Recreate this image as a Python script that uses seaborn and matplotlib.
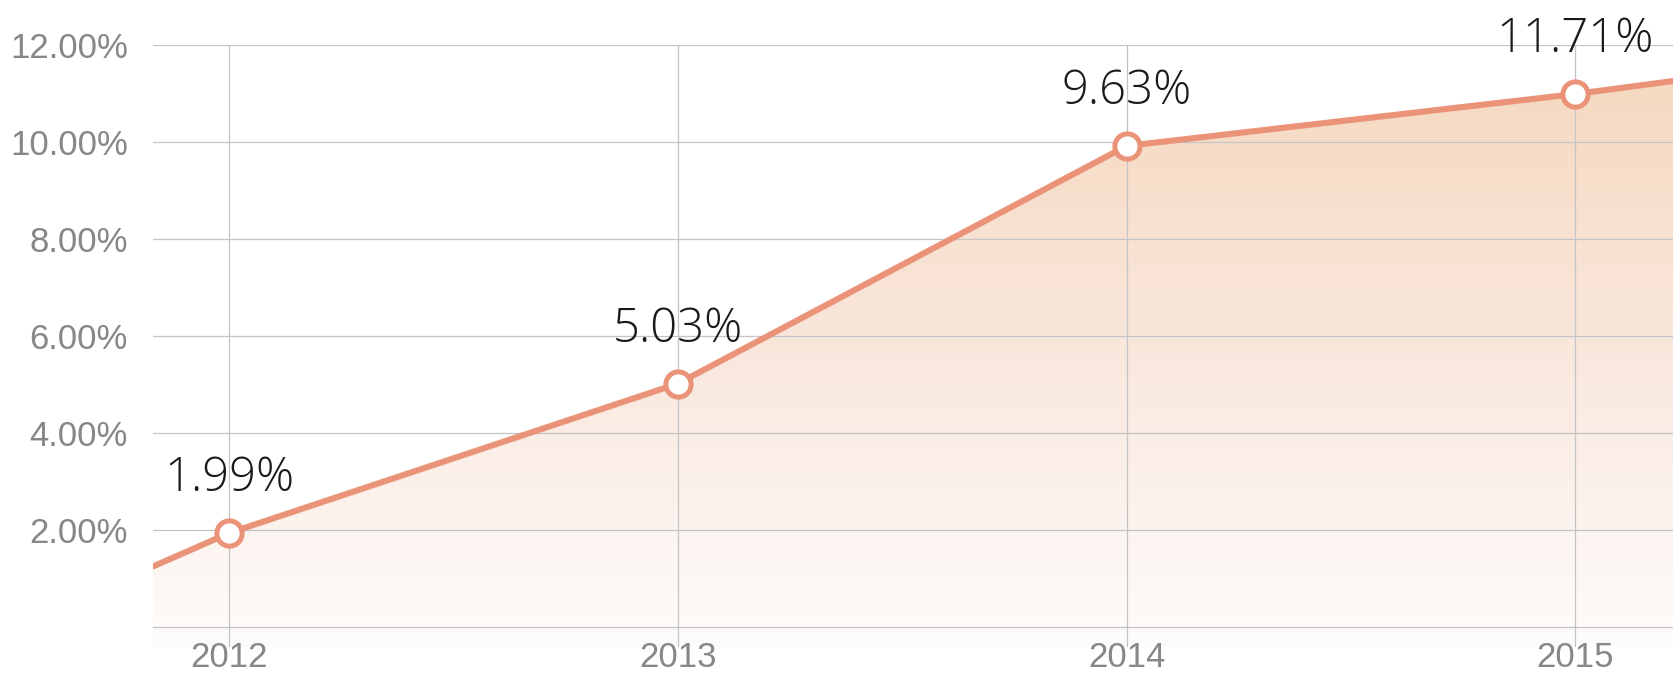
import numpy as np
import matplotlib
matplotlib.use('Agg')
import matplotlib.pyplot as plt
from matplotlib.colors import LinearSegmentedColormap
import seaborn as sns
import pandas as pd

# valores
years = [2012, 2013, 2014, 2015]
rates = [1.94, 5.02, 9.92, 10.99]
point_labels = ['1.99%', '5.03%', '9.63%', '11.71%']

# a linha continua além dos pontos até as bordas
line_years = [2011.83, 2012, 2013, 2014, 2015, 2015.22]
line_rates = [1.25, 1.94, 5.02, 9.92, 10.99, 11.26]

y_ticks = [0, 2, 4, 6, 8, 10, 12]
y_tick_labels = ['', '2.00%', '4.00%', '6.00%', '8.00%', '10.00%', '12.00%']

LINE_COLOR = '#eb9378'
GRID_COLOR = '#c4c4c6'
TICK_COLOR = '#86868b'

sns.set_theme(style='white')
plt.rcParams['font.family'] = ['Liberation Sans', 'DejaVu Sans']

fig = plt.figure(figsize=(16.74, 6.75), dpi=100)
ax = fig.add_axes([0.0914, 0.0415, 0.9086, 0.8918])

xmin, xmax = line_years[0], line_years[-1]
ymin, ymax = -0.41, 12

# preenchimento em degradê abaixo da linha
df_line = pd.DataFrame({'ano': line_years, 'taxa': line_rates})
poly = ax.fill_between(df_line['ano'], df_line['taxa'], ymin, color='none', lw=0)
cmap = LinearSegmentedColormap.from_list('grad', ['#fefcfb', '#f9e7dc', '#f5d8bd'])
grad = np.linspace(0, 1, 256).reshape(-1, 1)
img = ax.imshow(grad, extent=[xmin, xmax, ymin, ymax], origin='lower',
                aspect='auto', cmap=cmap, zorder=1)
img.set_clip_path(poly.get_paths()[0], transform=ax.transData)

sns.lineplot(data=df_line, x='ano', y='taxa', ax=ax, color=LINE_COLOR,
             linewidth=4.4, zorder=3)
df_pts = pd.DataFrame({'ano': years, 'taxa': rates})
sns.scatterplot(data=df_pts, x='ano', y='taxa', ax=ax, s=330, color='white',
                edgecolor=LINE_COLOR, linewidth=3.6, zorder=4)

for x, y, txt in zip(years, rates, point_labels):
    ax.annotate(txt, (x, y), xytext=(0, 30), textcoords='offset points',
                ha='center', va='baseline', fontsize=34, color='#1a1a1a',
                family=['Open Sans', 'DejaVu Sans'], fontweight='light',
                annotation_clip=False, zorder=5)

ax.set_xlim(xmin, xmax)
ax.set_ylim(ymin, ymax)
ax.set_xticks(years)
ax.set_xticklabels([str(y) for y in years])
ax.set_yticks(y_ticks)
ax.set_yticklabels(y_tick_labels)
ax.tick_params(axis='both', length=0, labelsize=25, labelcolor=TICK_COLOR)
ax.tick_params(axis='y', pad=18)
ax.tick_params(axis='x', pad=-4)
# grade por cima do degradê, mas por baixo da linha
ax.set_axisbelow(False)
ax.grid(True, color=GRID_COLOR, linewidth=0.9, zorder=2)
ax.set_xlabel('')
ax.set_ylabel('')
for s in ax.spines.values():
    s.set_visible(False)

fig.savefig('out.png', dpi=100)
plt.close(fig)
